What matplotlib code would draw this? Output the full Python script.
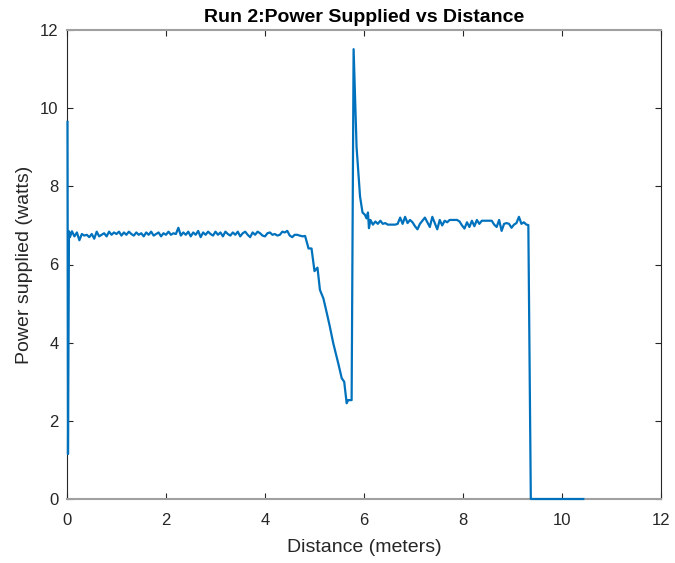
import matplotlib
matplotlib.use('Agg')
import matplotlib.pyplot as plt

plt.rcParams['font.family'] = ['Liberation Sans', 'DejaVu Sans']

# start of run: spike down then settle on first plateau
start_x = [0.01, 0.02, 0.04]
start_y = [9.65, 1.15, 6.85]

plateau1_x = [0.06, 0.10, 0.15, 0.20, 0.25, 0.30, 0.35, 0.40, 0.45, 0.50,
              0.55, 0.60, 0.65, 0.70, 0.75, 0.80, 0.85, 0.90, 0.95, 1.00,
              1.05, 1.10, 1.15, 1.20, 1.25, 1.30, 1.35, 1.40, 1.45, 1.50,
              1.55, 1.60, 1.65, 1.70, 1.75, 1.80, 1.85, 1.90, 1.95, 2.00,
              2.05, 2.10, 2.15, 2.20, 2.25, 2.30, 2.35, 2.40, 2.45, 2.50,
              2.55, 2.60, 2.65, 2.70, 2.75, 2.80, 2.85, 2.90, 2.95, 3.00,
              3.05, 3.10, 3.15, 3.20, 3.25, 3.30, 3.35, 3.40, 3.45, 3.50,
              3.55, 3.60, 3.65, 3.70, 3.75, 3.80, 3.85, 3.90, 3.95, 4.00,
              4.05, 4.10, 4.15, 4.20, 4.25, 4.30, 4.35, 4.40, 4.45, 4.50,
              4.55, 4.60, 4.65, 4.70]
plateau1_y = [6.70, 6.85, 6.72, 6.82, 6.62, 6.78, 6.74, 6.76, 6.70, 6.78,
              6.66, 6.84, 6.72, 6.76, 6.80, 6.72, 6.84, 6.76, 6.82, 6.78,
              6.84, 6.74, 6.82, 6.76, 6.84, 6.78, 6.74, 6.82, 6.76, 6.80,
              6.72, 6.82, 6.76, 6.84, 6.74, 6.78, 6.82, 6.72, 6.80, 6.76,
              6.84, 6.76, 6.80, 6.78, 6.94, 6.74, 6.82, 6.76, 6.84, 6.72,
              6.82, 6.76, 6.86, 6.70, 6.82, 6.76, 6.84, 6.78, 6.74, 6.84,
              6.76, 6.82, 6.72, 6.84, 6.78, 6.74, 6.82, 6.76, 6.84, 6.72,
              6.80, 6.84, 6.76, 6.70, 6.82, 6.76, 6.84, 6.80, 6.74, 6.72,
              6.80, 6.82, 6.76, 6.78, 6.74, 6.76, 6.84, 6.82, 6.86, 6.74,
              6.70, 6.76, 6.76, 6.74]

# drop, dip and overshoot around 5-6 m
drop_x = [4.76, 4.81, 4.88, 4.94, 5.00, 5.06, 5.11, 5.18, 5.25, 5.31,
          5.38, 5.48, 5.55, 5.60, 5.65, 5.68, 5.75, 5.79, 5.82, 5.85,
          5.92, 5.97, 6.02, 6.05, 6.08, 6.10, 6.13]
drop_y = [6.72, 6.73, 6.41, 6.41, 5.83, 5.92, 5.35, 5.13, 4.75, 4.41,
          3.98, 3.47, 3.09, 3.00, 2.45, 2.53, 2.53, 11.51, 10.30, 9.00,
          7.74, 7.33, 7.27, 7.18, 7.33, 6.93, 7.14]

plateau2_x = [6.18, 6.23, 6.28, 6.33, 6.38, 6.43, 6.48, 6.53, 6.58, 6.63,
              6.68, 6.73, 6.78, 6.83, 6.88, 6.93, 6.98, 7.03, 7.08, 7.13,
              7.18, 7.23, 7.28, 7.33, 7.38, 7.43, 7.48, 7.53, 7.58, 7.63,
              7.68, 7.73, 7.78, 7.83, 7.88, 7.93, 7.98, 8.03, 8.08, 8.13,
              8.18, 8.23, 8.28, 8.33, 8.38, 8.43, 8.48, 8.53, 8.58, 8.63,
              8.68, 8.73, 8.78, 8.83, 8.88, 8.93, 8.98, 9.03, 9.08, 9.13,
              9.18, 9.23, 9.28]
plateau2_y = [7.02, 7.10, 7.04, 7.12, 7.04, 7.06, 7.02, 7.02, 7.02, 7.02,
              7.04, 7.20, 7.04, 7.22, 7.06, 7.14, 7.08, 6.98, 6.90, 7.04,
              7.12, 7.20, 7.08, 6.96, 7.22, 7.06, 6.90, 7.14, 7.00, 7.12,
              7.08, 7.14, 7.14, 7.14, 7.14, 7.10, 7.00, 6.92, 7.08, 6.96,
              7.12, 6.98, 7.14, 7.04, 7.12, 7.12, 7.12, 7.12, 7.12, 7.02,
              6.96, 7.14, 6.86, 7.04, 7.06, 7.04, 6.94, 7.02, 7.06, 7.22,
              7.04, 7.08, 7.02]

# cut-off at the end
end_x = [9.32, 9.37, 10.43]
end_y = [7.01, 0.00, 0.00]

distance = start_x + plateau1_x + drop_x + plateau2_x + end_x
power = start_y + plateau1_y + drop_y + plateau2_y + end_y

fig = plt.figure(figsize=(6.75, 5.63), dpi=100)
ax = fig.add_axes([67 / 675, 64 / 563, 594 / 675, 469 / 563])

ax.plot(distance, power, color='#0072BD', linewidth=1.6, zorder=3, clip_on=False)

ax.set_xlim(0, 12)
ax.set_ylim(0, 12)
ax.set_xticks([0, 2, 4, 6, 8, 10, 12])
ax.set_yticks([0, 2, 4, 6, 8, 10, 12])

ax.set_title('Run 2:Power Supplied vs Distance', fontsize=14, fontweight='bold',
             color='black', pad=6)
ax.set_xlabel('Distance (meters)', fontsize=14, color='#262626', labelpad=8)
ax.set_ylabel('Power supplied (watts)', fontsize=14, color='#262626', labelpad=5)

for name, side in ax.spines.items():
    side.set_color('#262626')
    side.set_linewidth(0.8)
ax.spines['bottom'].set_color('#a0a0a0')
ax.spines['bottom'].set_linewidth(1.5)
ax.spines['top'].set_color('#a0a0a0')
ax.spines['top'].set_linewidth(1.5)
ax.tick_params(direction='in', top=True, right=True, length=4, width=0.8,
               colors='#262626', labelsize=12)
ax.tick_params(axis='x', pad=10)
ax.tick_params(axis='y', pad=6)

fig.savefig('out.png', dpi=100)
